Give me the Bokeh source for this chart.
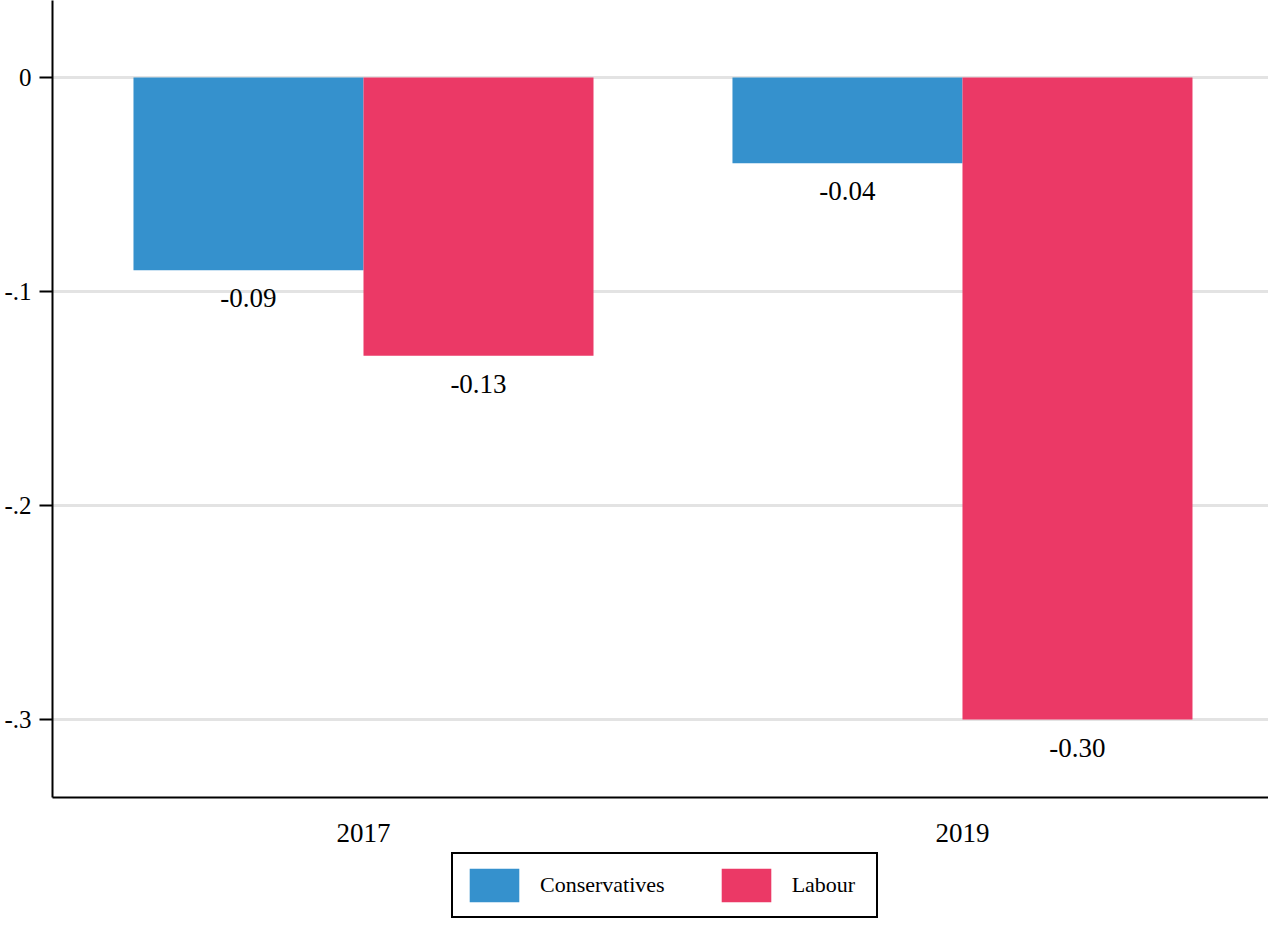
from bokeh.plotting import figure
from bokeh.layouts import column
from bokeh.models import Range1d, FixedTicker, Legend, LegendItem, ColumnDataSource
from bokeh.core.properties import value
from bokeh.embed import file_html
from bokeh.resources import INLINE

years = ["2017", "2019"]
parties = ["Conservatives", "Labour"]
conservatives = [-0.09, -0.04]
labour = [-0.13, -0.30]
colors = ["#3591cd", "#eb3966"]
y_ticks = [0.0, -0.1, -0.2, -0.3]
y_tick_labels = ["0", "-.1", "-.2", "-.3"]

FONT = "Liberation Serif"
bar_w = 0.384

p = figure(width=1268, height=848, output_backend="svg", toolbar_location=None,
           x_range=Range1d(0.4808, 2.5109), y_range=Range1d(-0.33643, 0.0360),
           min_border_left=52, min_border_right=0, min_border_top=0, min_border_bottom=51)
p.outline_line_color = None
p.background_fill_color = "white"
p.border_fill_color = "white"

pos = [i + 1 for i in range(len(years))]
for k, (vals, col) in enumerate(zip([conservatives, labour], colors)):
    xs = [x + (k - 0.5) * bar_w for x in pos]
    src = ColumnDataSource(dict(x=xs, bottom=vals, top=[0] * len(vals),
                                lab=[f"{v:.2f}" for v in vals]))
    p.vbar(x="x", width=bar_w, bottom="bottom", top="top", source=src,
           fill_color=col, line_color=None)
    p.text(x="x", y="bottom", text="lab", source=src, text_align="center",
           text_baseline="middle", y_offset=28, text_font=value(FONT),
           text_font_size="27px", text_color="black")

# axes
p.xaxis.ticker = FixedTicker(ticks=pos)
p.xaxis.major_label_overrides = {x: y for x, y in zip(pos, years)}
p.xaxis.major_tick_line_color = None
p.xaxis.minor_tick_line_color = None
p.xaxis.major_tick_out = 0
p.xaxis.major_label_standoff = 26
p.xaxis.axis_line_width = 2
p.xaxis.axis_line_color = "black"
p.xaxis.major_label_text_font = FONT
p.xaxis.major_label_text_font_size = "27px"
p.xaxis.major_label_text_color = "black"

p.yaxis.ticker = FixedTicker(ticks=y_ticks)
p.yaxis.major_label_overrides = {t: l for t, l in zip(y_ticks, y_tick_labels)}
p.yaxis.minor_tick_line_color = None
p.yaxis.major_tick_out = 13
p.yaxis.major_tick_in = 0
p.yaxis.major_tick_line_width = 2
p.yaxis.major_tick_line_color = "black"
p.yaxis.axis_line_width = 2
p.yaxis.axis_line_color = "black"
p.yaxis.major_label_standoff = 8
p.yaxis.major_label_text_font = FONT
p.yaxis.major_label_text_font_size = "25px"
p.yaxis.major_label_text_color = "black"

p.xgrid.grid_line_color = None
p.ygrid.grid_line_color = "#e3e3e3"
p.ygrid.grid_line_width = 3

# legend strip below the chart (proxy glyphs of zero height carry the colours)
pl = figure(width=1268, height=70, output_backend="svg", toolbar_location=None,
            x_range=Range1d(0, 1), y_range=Range1d(0, 1),
            x_axis_type=None, y_axis_type=None,
            min_border_left=0, min_border_right=0, min_border_top=0, min_border_bottom=0)
pl.outline_line_color = None
pl.xgrid.visible = False
pl.ygrid.visible = False
items = []
for name, col in zip(parties, colors):
    proxy = ColumnDataSource(dict(x=[0.5], top=[0], bottom=[0]))
    r = pl.vbar(x="x", top="top", bottom="bottom", width=0.01, source=proxy,
                fill_color=col, line_color=None)
    items.append(LegendItem(label=name, renderers=[r]))

legend = Legend(items=items, orientation="horizontal", location=(399, 0),
                glyph_width=62, glyph_height=42, label_standoff=15, spacing=50,
                padding=10, margin=0, label_width=74,
                border_line_color="black", border_line_width=2, border_line_alpha=1.0,
                background_fill_alpha=1.0,
                label_text_font=FONT, label_text_font_size="22px", label_text_color="black")
pl.add_layout(legend, "center")

layout = column(p, pl, spacing=0)
open("out.html", "w").write(file_html(layout, INLINE))
